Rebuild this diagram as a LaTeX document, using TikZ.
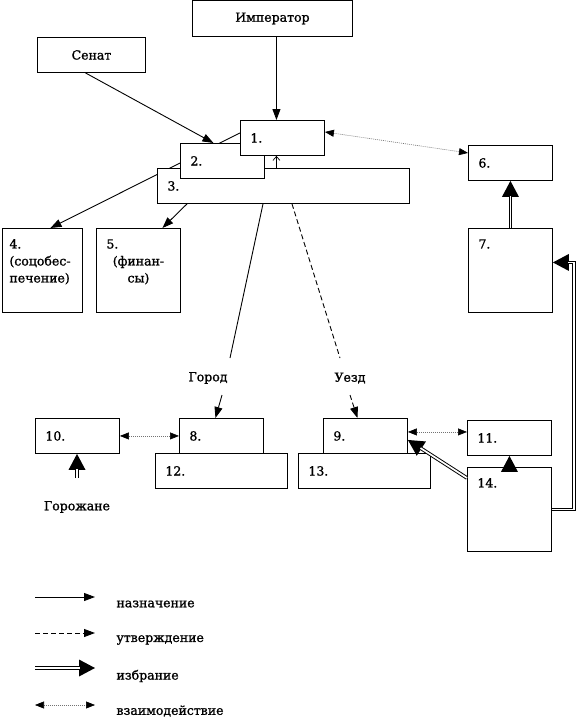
\documentclass[tikz,border=0pt]{standalone}
\usepackage{fontspec}
\setmainfont[FakeBold=1.2]{DejaVu Serif}
\usepackage{tikz}
\usetikzlibrary{positioning, calc, arrows.meta, backgrounds}

\begin{document}
\begin{tikzpicture}[
        x=1pt, y=-1pt,
        font=\fontsize{12.5}{17}\selectfont,
        box/.style={rectangle, draw=black, fill=white, line width=0.9pt, minimum height=35pt, inner xsep=10pt, inner ysep=0pt, text width=64pt, align=left},
        widebox/.style={box, text width=112pt},
        tallbox/.style={box, text height=12pt, text depth=56pt, inner ysep=8pt},
        appoint/.style={line width=0.9pt, -{Triangle[length=11pt, width=8pt]}},
        confirm/.style={appoint, dash pattern=on 5pt off 3pt},
        electtip/.style={line width=3.6pt, -{Triangle[length=16pt, width=17pt, line width=0pt]}},
        elect/.style={electtip, postaction={draw=white, line width=1.7pt, -, shorten >=15pt}},
        interact/.style={draw=black!55, line width=0.6pt, dash pattern=on 1pt off 1pt, {Triangle[length=9pt, width=7pt, color=black]}-{Triangle[length=9pt, width=7pt, color=black]}},
        plain/.style={line width=0.9pt}
    ]
        \useasboundingbox (0,0) rectangle (578,725);

        % --- NODES ---
        \node[box, text width=140pt, minimum height=36pt, align=center, anchor=north west] (emperor) at (192,0) {Император};
        \node[box, text width=88pt, align=center, anchor=north west] (senat) at (37,37) {Сенат};

        % 3 lies under 2, 2 under 1
        \node[box, text width=232pt, anchor=north west] (b3) at (157,168) {3.};
        \node[box, anchor=north west] (b2) at (180,143) {2.};
        \node[box, anchor=north west] (b1) at (240,120) {1.};

        \node[tallbox, inner xsep=7pt, text width=66pt, anchor=north west] (b4) at (2,228) {4.\\(соцобес-\\печение)};
        \node[tallbox, align=center, anchor=north west] (b5) at (96,228) {\makebox[\linewidth][l]{5.}\\(финан-\\сы)};
        \node[box, anchor=north west] (b6) at (468,145) {6.};
        \node[tallbox, anchor=north west] (b7) at (468,228) {7.};

        % --- TOWN AND DISTRICT ---
        \node (gorod) at (208,378) {Город};
        \node (uezd) at (350,378) {Уезд};
        \coordinate (gorodtop) at (230,358);
        \coordinate (gorodarr) at (222,395);
        \coordinate (uezdtop) at (340,358);
        \coordinate (uezdarr) at (350,395);

        \node[widebox, anchor=north west] (b12) at (155,453) {12.};
        \node[box, anchor=north west] (b8) at (179,418) {8.};
        \node[box, anchor=north west] (b10) at (35,418) {10.};
        \node[widebox, anchor=north west] (b13) at (298,453) {13.};
        \node[box, anchor=north west] (b9) at (323,418) {9.};
        \node[box, anchor=north west] (b11) at (467,420) {11.};
        \node[tallbox, anchor=north west] (b14) at (467,467) {14.};

        \node (citizens) at (77,507) {Горожане};
        \coordinate (citizensarr) at (77,478);

        % --- ARROWS ---
        \begin{scope}[on background layer]
            \draw[appoint] ([xshift=4pt]emperor.south) -- ([xshift=4pt]emperor.south |- b1.north);
            \draw[appoint] ([xshift=-6pt]senat.south) -- ([xshift=-9pt]b2.north);
            \draw[appoint] ([yshift=5pt]b1.west) -- ([xshift=8pt]b4.north);
            \draw[appoint] ([xshift=30pt]b3.south west) -- ([xshift=24pt]b5.north);
            \draw[line width=0.7pt, -{Straight Barb[length=4pt, width=7pt]}] ([xshift=-6pt]b1.south |- b3.north) -- ([xshift=-6pt]b1.south);
            \draw[interact] ([yshift=6pt]b1.east) -- ([yshift=10pt]b6.west);

            % Town and district
            \draw[plain] ([xshift=106pt]b3.south west) -- (gorodtop);
            \draw[appoint] (gorodarr) -- ([xshift=-6pt]b8.north);
            \draw[plain, dash pattern=on 5pt off 3pt] ([xshift=135pt]b3.south west) -- (uezdtop);
            \draw[confirm] (uezdarr) -- ([xshift=-8pt]b9.north);
            \draw[interact] (b10) -- (b8);
            \draw[interact] ([yshift=4pt]b9.east) -- ([yshift=4pt]b9.east -| b11.west);
        \end{scope}

        % Elections
        \draw[elect] (b7) -- (b6);
        \draw[elect] (b14.east) -- ++(22,0) |- ([yshift=8pt]b7.east);
        \draw[elect] ([yshift=-11pt]b14.north west) -- ([yshift=-4pt]b9.east);
        \draw[elect] (citizensarr) -- (citizensarr |- b10.south);
        \draw[electtip] (b14.north) -- (b11.south);

        % --- LEGEND ---
        \coordinate (lg1a) at (35,597); \coordinate (lg1b) at (95,597);
        \coordinate (lg2a) at (35,633); \coordinate (lg2b) at (95,633);
        \coordinate (lg3a) at (35,668); \coordinate (lg3b) at (95,668);
        \coordinate (lg4a) at (35,705); \coordinate (lg4b) at (95,705);
        \draw[appoint] (lg1a) -- (lg1b);
        \draw[confirm] (lg2a) -- (lg2b);
        \draw[elect] (lg3a) -- (lg3b);
        \draw[interact] (lg4a) -- (lg4b);
        \node[anchor=west] (lgappoint) at (113,604) {назначение};
        \node[anchor=west] (lgconfirm) at (113,640) {утверждение};
        \node[anchor=west] (lgelect) at (113,676) {избрание};
        \node[anchor=west] (lginteract) at (113,711) {взаимодействие};

    \end{tikzpicture}
\end{document}
